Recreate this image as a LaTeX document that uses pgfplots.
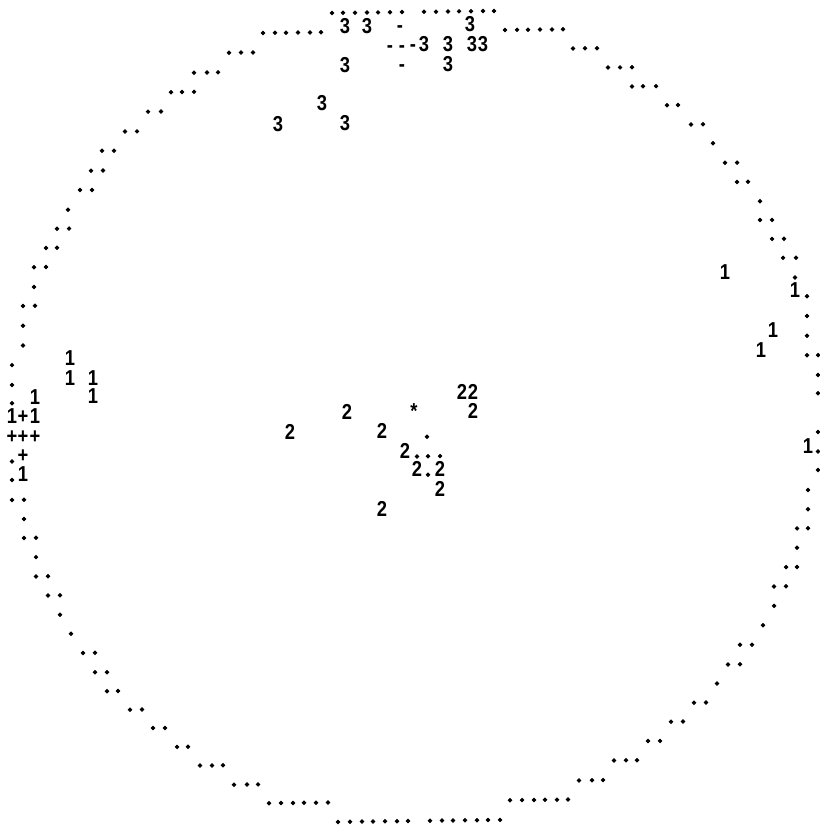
\documentclass[border=0pt]{standalone}
\usepackage{pgfplots}
\usepackage{pgfplotstable}
\pgfplotsset{compat=1.18}
\usepackage{fontspec}
\setmainfont{Liberation Sans}
\newfontfamily\plotfont{Liberation Sans}[FakeStretch=0.85]

\pgfplotstableread{
x Y
332 12
343 12
355 12
367 12
378 12
390 12
402 12
424 12
436 12
448 12
459 12
471 12
483 12
494 12
263 31.2
275 31.2
286 31.2
298 31.2
310 31.2
321 31.2
505 31.2
517 31.2
528 31.2
540 31.2
552 31.2
563 31.2
229 50.5
241 50.5
253 50.5
573 50.5
585 50.5
597 50.5
194 70
207 70
218 70
608 70
620 70
632 70
171 89.2
182 89.2
194 89.2
632 89.2
643 89.2
656 89.2
148 108.4
161 108.4
667 108.4
678 108.4
125 128
137 128
691 128
703 128
102 147
114 147
713 147
91 166.7
103 166.7
725 166.7
737 166.7
80 186
92 186
737 186
748 186
68 205.6
760 205.6
57 224.4
69 224.4
760 224.4
772 224.4
46 243.4
57 243.4
772 243.4
784 243.4
34 262.5
46 262.5
783 262.5
796 262.5
34 282.3
795 282.3
23 301.1
35 301.1
807 301.1
23 321
807 321
23 340.7
807 340.7
12 360.2
807 360.2
818 360.2
12 380
818 380
12 398.3
818 398.3
818 437
427 437
12 456.5
818 456.5
417 456.5
428 456.5
440 456.5
12 475
818 475
428 475
12 495
24 495
808 495
24 514.2
808 514.2
24 533.2
36 533.2
797 533.2
808 533.2
36 552.5
797 552.5
36 571.8
48 571.8
786 571.8
797 571.8
48 591
60 591
774 591
786 591
60 610.4
774 610.4
71 629.6
763 629.6
83 648.9
95 648.9
740 648.9
752 648.9
95 668.4
107 668.4
728 668.4
740 668.4
107 687.4
118 687.4
717 687.4
130 706.2
142 706.2
694 706.2
706 706.2
153 724.9
165 724.9
671 724.9
683 724.9
177 744
188 744
648 744
660 744
200 763
212 763
223 763
614 763
626 763
637 763
234 782.5
247 782.5
258 782.5
579 782.5
592 782.5
603 782.5
269 801.5
281 801.5
293 801.5
304 801.5
316 801.5
328 801.5
510 801.5
522 801.5
534 801.5
545 801.5
557 801.5
568 801.5
338 821
350 821
362 821
373 821
385 821
397 821
408 821
430 821
442 821
453 821
465 821
477 821
488 821
500 821
}\dotsdata

\pgfplotstableread{
x Y t
345 31.2 3
367 31.2 3
400 31.2 -
470 31.2 3
390 50.5 -
402 50.5 -
413 50.5 -
424 50.5 3
448 50.5 3
472 50.5 3
483 50.5 3
345 70 3
402 70 -
448 70 3
322 108.4 3
278 128 3
345 128 3
725 282.3 1
795 301.1 1
773 340.7 1
70 360.2 1
761 360.2 1
70 380 1
93 380 1
35 398.3 1
93 398.3 1
462 398.3 2
473 398.3 2
12 417.5 1
23 417.5 +
35 417.5 1
347 417.5 2
414 417.5 *
473 417.5 2
12 437 +
23 437 +
35 437 +
290 437 2
382 437 2
23 456.5 +
405 456.5 2
808 456.5 1
23 475 1
417 475 2
440 475 2
440 495 2
382 514.2 2
}\labeldata

\begin{document}
\begin{tikzpicture}
\begin{axis}[
  scale only axis,
  width=409pt, height=414pt,
  xmin=0, xmax=818, ymin=0, ymax=828,
  y dir=reverse,
  hide axis,
  clip=true,
]
\addplot[only marks, mark=*, mark size=0.9pt, black]
  table[x=x, y expr={\thisrow{Y}-0.0124*(\thisrow{x}-409)}] {\dotsdata};
\addplot[draw=none, mark=none,
  nodes near coords, point meta=explicit symbolic,
  nodes near coords style={anchor=base, inner sep=0pt, black,
    font=\plotfont\fontsize{10.8}{12}\selectfont\bfseries}]
  table[x=x, y expr={\thisrow{Y}+1.5-0.0124*(\thisrow{x}-409)}, meta=t] {\labeldata};
\end{axis}
\path (current axis.south west) rectangle (current axis.north east);
\end{tikzpicture}
\end{document}
